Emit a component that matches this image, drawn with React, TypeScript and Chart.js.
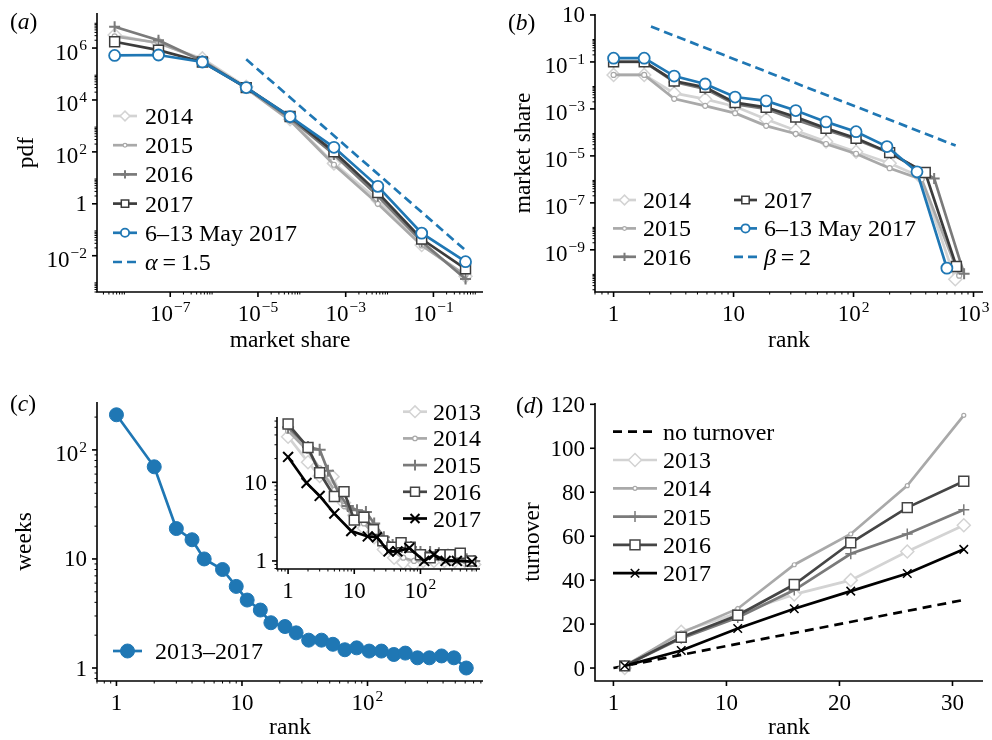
import React, { useEffect, useRef } from "react";
import { Chart, registerables } from "chart.js";
import { drawPoint } from "chart.js/helpers";

Chart.register(...registerables);

const W = 992;
const H = 740;
const FONT = "'Liberation Serif', 'Times New Roman', Times, serif";
const TICK_SIZE = 23;
const SUP_SIZE = 15.5;
const TITLE_SIZE = 23.5;
const LEGEND_SIZE = 24;
const LW = 2.7;

// ---------------- (a) pdf of market share ----------------
const shareBins = [5.4e-9, 5.4e-8, 5.4e-7, 5.4e-6, 5.4e-5, 5.4e-4, 5.4e-3, 5.4e-2, 5.4e-1];
const pdf2014 = [3.2e6, 1.5e6, 4.0e5, 3.2e4, 1.8e3, 36, 1.4, 0.026, 1.6e-3];
const pdf2015 = [2.8e6, 1.6e6, 3.5e5, 2.8e4, 1.6e3, 32, 1.0, 0.025, 1.8e-3];
const pdf2016 = [6.6e6, 2.0e6, 3.2e5, 3.0e4, 2.0e3, 80, 2.0, 0.035, 1.26e-3];
const pdf2017 = [1.75e6, 8.3e5, 2.9e5, 3.0e4, 2.3e3, 100, 2.7, 0.044, 3.1e-3];
const pdfMay = [5.2e5, 5.4e5, 2.9e5, 3.0e4, 2.3e3, 150, 4.7, 0.074, 5.9e-3];
const alphaX = [5.4e-6, 0.5];
const alphaY = [3.7e5, 1.8e-2];
const aTicksX = [1e-7, 1e-5, 1e-3, 1e-1];
const aTicksY = [1e-2, 1, 1e2, 1e4, 1e6];

// ---------------- (b) market share vs rank ----------------
const rank2014 = [1, 1.8, 3.2, 5.8, 10.3, 18.7, 33, 59, 105, 200, 360, 705];
const share2014 = [0.028, 0.028, 4.7e-3, 2.6e-3, 1.26e-3, 3.6e-4, 1.2e-4, 4.1e-5, 1.5e-5, 4.9e-6, 1.3e-6, 5.6e-11];
const rank2015 = [1, 1.8, 3.2, 5.8, 10.3, 18.7, 33, 59, 105, 200, 370, 760];
const share2015 = [0.028, 0.028, 2.7e-3, 1.35e-3, 6.6e-4, 1.9e-4, 8.7e-5, 3.2e-5, 1.23e-5, 3.0e-6, 1.0e-6, 7.9e-11];
const rank2016 = [1, 1.8, 3.2, 5.8, 10.3, 18.7, 33, 59, 105, 205, 470, 835];
const share2016 = [0.1, 0.1, 0.014, 7.1e-3, 1.6e-3, 1.0e-3, 3.5e-4, 1.26e-4, 5.0e-5, 1.26e-5, 1.1e-6, 9.5e-11];
const rank2017 = [1, 1.8, 3.2, 5.8, 10.3, 18.7, 33, 59, 105, 200, 396, 720];
const share2017 = [0.102, 0.102, 0.0155, 8.3e-3, 1.86e-3, 1.17e-3, 4.5e-4, 1.5e-4, 5.6e-5, 1.38e-5, 1.95e-6, 1.95e-10];
const rankMay = [1, 1.8, 3.2, 5.8, 10.3, 18.7, 33, 59, 105, 190, 338, 600];
const shareMay = [0.145, 0.145, 0.025, 0.0115, 3.2e-3, 2.2e-3, 8.5e-4, 2.8e-4, 1.07e-4, 2.5e-5, 2.1e-6, 1.66e-10];
const betaX = [2.05, 710];
const betaY = [3.2, 2.75e-5];
const bTicksX = [1, 10, 100, 1000];
const bTicksY = [1e-9, 1e-7, 1e-5, 1e-3, 1e-1, 10];

// ---------------- (c) weeks vs rank ----------------
const rankC = [1, 2, 3, 4, 5, 7, 9, 11, 14, 17, 22, 27, 34, 43, 53, 66, 82, 103, 129, 162, 200, 250, 311, 389, 488, 612];
const weeksAll = [210, 70, 19, 15, 10, 8, 5.6, 4.2, 3.4, 2.6, 2.4, 2.1, 1.8, 1.8, 1.65, 1.47, 1.53, 1.43, 1.43, 1.33, 1.37, 1.24, 1.24, 1.29, 1.24, 1.0];
const cTicksX = [1, 10, 100];
const cTicksY = [1, 10, 100];

// inset
const inRank2013 = [1, 2, 3, 4.7, 7, 10, 14, 20, 28, 40, 55, 80, 110, 160, 230, 330, 470, 650];
const inWeeks2013 = [38, 18, 12, 11.8, 5.5, 3.8, 2.6, 2.0, 1.4, 1.1, 0.95, 0.9, 1.0, 1.0, 1.0, 1.0, 1.0, 0.9];
const inRank2014 = [1, 2, 3, 5, 7, 10, 14, 20, 28, 40, 55, 80, 110, 160, 230, 330, 470, 650];
const inWeeks2014 = [45, 25, 15, 8, 5, 3.6, 3.0, 2.2, 1.6, 1.3, 1.1, 1.0, 1.0, 1.1, 1.0, 1.0, 1.0, 1.0];
const inRank2015 = [1, 2, 3, 4, 6, 8, 11, 15, 20, 28, 38, 52, 72, 100, 140, 190, 260, 360, 500, 650];
const inWeeks2015 = [50, 28, 26, 14, 7, 5, 4.4, 4.2, 3.0, 2.0, 1.6, 1.5, 1.5, 1.3, 1.3, 1.25, 1.2, 1.1, 1.05, 1.0];
const inRank2016 = [1, 2, 3, 5, 7, 10, 14, 19.5, 27, 37, 51, 70, 100, 140, 200, 280, 400, 570];
const inWeeks2016 = [55, 27.7, 13.2, 6.6, 7.6, 3.3, 3.6, 2.5, 1.8, 1.5, 1.7, 1.5, 1.2, 1.1, 1.2, 1.2, 1.25, 1.0];
const inRank2017 = [1, 1.9, 3, 5, 9, 16, 22, 33, 45, 68, 114, 160, 240, 355, 600];
const inWeeks2017 = [21, 9.8, 6.7, 4, 2.4, 2.05, 2.0, 1.32, 1.32, 1.46, 1.0, 1.2, 1.0, 1.0, 0.98];
const inTicksX = [1, 10, 100];
const inTicksY = [1, 10];

// ---------------- (d) turnover vs rank ----------------
const rankD = [1, 6, 11, 16, 21, 26, 31];
const turn2013 = [0, 16.5, 25, 33.5, 40, 53, 65];
const turn2014 = [1, 16, 27, 47, 61, 83, 115];
const turn2015 = [1, 13.5, 23, 35.5, 52, 61, 72];
const turn2016 = [1, 14, 24, 38, 57, 73, 85];
const turn2017 = [1, 8, 18, 27, 35, 43, 54];
const noTurnX = [0, 31];
const noTurnY = [0, 31];
const dTicksX = [0, 10, 20, 30];
const dTickLabelsX = ["1", "10", "20", "30"];
const dTicksY = [0, 20, 40, 60, 80, 100, 120];

// ---------------- colours ----------------
const BLUE = "#1f77b4";
const G1 = "#d3d3d3";
const G2 = "#a9a9a9";
const G3 = "#7a7a7a";
const G4a = "#3c3c3c";
const G4 = "#454545";
const BLACK = "#000000";

function series(label: string, xs: number[], ys: number[], color: string, marker: string | null, r: number, extra: any = {}) {
  return {
    label,
    data: xs.map((x, i) => ({ x, y: ys[i] })),
    borderColor: color,
    backgroundColor: color,
    borderWidth: LW,
    pointStyle: marker || "circle",
    pointRadius: marker ? r : 0,
    pointHoverRadius: marker ? r : 0,
    pointBorderColor: color,
    pointBackgroundColor: "#ffffff",
    pointBorderWidth: 1.5,
    tension: 0,
    fill: false,
    clip: false,
    ...extra,
  };
}

function withOrder(ds: any[]) {
  return ds.map((d, i) => ({ ...d, order: ds.length - i }));
}

function supParts(v: number): [string, string] {
  const e = Math.round(Math.log10(v));
  if (e === 0) return ["1", ""];
  if (e === 1) return ["10", ""];
  return ["10", e < 0 ? "\u2212" + -e : String(e)];
}

function drawTickLabel(ctx: any, base: string, sup: string, x: number, y: number, align: string) {
  ctx.font = `${TICK_SIZE}px ${FONT}`;
  const wb = ctx.measureText(base).width;
  ctx.font = `${SUP_SIZE}px ${FONT}`;
  const ws = sup ? ctx.measureText(sup).width + 1 : 0;
  const total = wb + ws;
  const x0 = align === "center" ? x - total / 2 : x - total;
  ctx.textAlign = "left";
  ctx.textBaseline = "alphabetic";
  ctx.fillStyle = "#000";
  ctx.font = `${TICK_SIZE}px ${FONT}`;
  ctx.fillText(base, x0, y);
  if (sup) {
    ctx.font = `${SUP_SIZE}px ${FONT}`;
    ctx.fillText(sup, x0 + wb + 1, y - 9.5);
  }
}

const decoPlugin = {
  id: "deco",
  afterDraw(chart: any, _args: any, o: any) {
    const ctx = chart.ctx;
    const ca = chart.chartArea;
    ctx.save();
    ctx.setLineDash([]);
    ctx.strokeStyle = "#000";
    ctx.lineWidth = 1.6;
    ctx.beginPath();
    ctx.moveTo(ca.left, ca.top);
    ctx.lineTo(ca.left, ca.bottom);
    ctx.lineTo(ca.right, ca.bottom);
    ctx.stroke();

    for (const id of ["x", "y"]) {
      const sc = chart.scales[id];
      const horiz = id === "x";
      const labeled: number[] = sc.ticks.map((t: any) => t.value);
      const marks: [number, boolean][] = [];
      const isLog = sc.type === "logarithmic";
      if (isLog) {
        const exps = labeled.map((v) => Math.round(Math.log10(v)));
        const stride = exps.length > 1 ? exps[1] - exps[0] : 1;
        const n0 = Math.floor(Math.log10(sc.min)) - 1;
        const n1 = Math.ceil(Math.log10(sc.max)) + 1;
        for (let n = n0; n <= n1; n++) {
          if ((((n - exps[0]) % stride) + stride) % stride !== 0) continue;
          for (let k = 1; k <= 9; k++) {
            const v = k * Math.pow(10, n);
            if (v < sc.min || v > sc.max) continue;
            marks.push([v, k === 1]);
          }
        }
      } else {
        labeled.forEach((v) => marks.push([v, true]));
      }
      ctx.strokeStyle = "#000";
      for (const [v, major] of marks) {
        const p = sc.getPixelForValue(v);
        const len = major ? 5 : 2.5;
        ctx.lineWidth = major ? 1.6 : 1;
        ctx.beginPath();
        if (horiz) {
          ctx.moveTo(p, ca.bottom);
          ctx.lineTo(p, ca.bottom + len);
        } else {
          ctx.moveTo(ca.left, p);
          ctx.lineTo(ca.left - len, p);
        }
        ctx.stroke();
      }
      const fmt = o && o[id + "Fmt"];
      labeled.forEach((v, i) => {
        const p = sc.getPixelForValue(v);
        let base: string;
        let sup = "";
        if (isLog) [base, sup] = supParts(v);
        else base = fmt ? fmt[i] : String(v);
        if (horiz) drawTickLabel(ctx, base, sup, p, ca.bottom + 29, "center");
        else drawTickLabel(ctx, base, sup, ca.left - 10, p + 7.5 + (sup ? 4 : 0), "right");
      });
    }

    const lg = o && o.legend;
    if (lg) {
      for (const it of lg.items) {
        const ds = chart.data.datasets[it.ds];
        const col = lg.cols[it.col || 0];
        const y = lg.y0 + (it.row || 0) * lg.dy;
        const x1 = col.x1;
        const x2 = col.x1 + lg.len;
        ctx.save();
        ctx.strokeStyle = ds.borderColor;
        ctx.lineWidth = ds.borderWidth;
        ctx.setLineDash(ds.borderDash || []);
        ctx.beginPath();
        ctx.moveTo(x1, y);
        ctx.lineTo(x2, y);
        ctx.stroke();
        ctx.setLineDash([]);
        if (ds.pointRadius > 0) {
          ctx.fillStyle = ds.pointBackgroundColor;
          ctx.strokeStyle = ds.pointBorderColor;
          ctx.lineWidth = ds.pointBorderWidth;
          drawPoint(ctx, { pointStyle: ds.pointStyle, rotation: 0, radius: ds.pointRadius * lg.mscale, borderWidth: ds.pointBorderWidth } as any, (x1 + x2) / 2, y);
        }
        ctx.restore();
        ctx.fillStyle = "#000";
        ctx.textAlign = "left";
        ctx.textBaseline = "alphabetic";
        let tx = col.tx;
        const parts = it.parts || [{ t: ds.label }];
        for (const part of parts) {
          ctx.font = `${part.i ? "italic " : ""}${LEGEND_SIZE}px ${FONT}`;
          ctx.fillText(part.t, tx, y + 8);
          tx += ctx.measureText(part.t).width;
        }
      }
    }
    ctx.restore();
  },
};

function makeConfig(spec: any) {
  const lh = TITLE_SIZE * 1.2;
  const { L, T, R, B } = spec.area;
  const yW = spec.y.title ? L - (spec.y.titleX - lh / 2) : 40;
  const xH = spec.x.title ? spec.x.titleY - B + lh / 2 : 40;
  const axis = (a: any, horiz: boolean) => ({
    type: a.type,
    min: a.min,
    max: a.max,
    afterFit: (s: any) => {
      if (horiz) s.height = xH;
      else s.width = yW;
    },
    afterBuildTicks: (s: any) => {
      s.ticks = a.ticks.map((v: number) => ({ value: v }));
    },
    ticks: { display: false },
    grid: { display: false },
    border: { display: false },
    title: {
      display: !!a.title,
      text: a.title || "",
      color: "#000",
      font: { family: FONT, size: TITLE_SIZE, lineHeight: 1.2 },
      padding: 0,
    },
  });
  return {
    type: "line",
    data: { datasets: withOrder(spec.datasets) },
    options: {
      animation: false,
      responsive: false,
      maintainAspectRatio: false,
      events: [],
      layout: { padding: { left: L - yW, top: T, right: W - R, bottom: H - B - xH } },
      plugins: {
        legend: { display: false },
        tooltip: { enabled: false },
        deco: { legend: spec.legend, xFmt: spec.x.fmt, yFmt: spec.y.fmt },
      },
      scales: { x: axis(spec.x, true), y: axis(spec.y, false) },
    },
    plugins: [decoPlugin],
  };
}

const specA = () => ({
  area: { L: 97, T: 13, R: 483, B: 292 },
  x: { type: "logarithmic", min: 2.14e-9, max: 1.35, ticks: aTicksX, title: "market share", titleY: 341 },
  y: { type: "logarithmic", min: 4e-4, max: 2.24e7, ticks: aTicksY, title: "pdf", titleX: 27 },
  datasets: [
    series("2014", shareBins, pdf2014, G1, "rectRot", 6.5),
    series("2015", shareBins, pdf2015, G2, "circle", 2.5, { pointBorderWidth: 1.2 }),
    series("2016", shareBins, pdf2016, G3, "cross", 5.5, { pointBorderWidth: 2 }),
    series("2017", shareBins, pdf2017, G4a, "rect", 7),
    series("6\u201313 May 2017", shareBins, pdfMay, BLUE, "circle", 5.5, { pointBorderWidth: 1.8 }),
    series("\u03b1 = 1.5", alphaX, alphaY, BLUE, null, 0, { borderDash: [9, 5] }),
  ],
  legend: {
    cols: [{ x1: 113, tx: 145 }],
    len: 24,
    y0: 116,
    dy: 29.2,
    mscale: 0.75,
    items: [
      { ds: 0, row: 0 },
      { ds: 1, row: 1 },
      { ds: 2, row: 2 },
      { ds: 3, row: 3 },
      { ds: 4, row: 4 },
      { ds: 5, row: 5, parts: [{ t: "\u03b1", i: true }, { t: "\u2009=\u20091.5" }] },
    ],
  },
});

const specB = () => ({
  area: { L: 595, T: 14, R: 983, B: 292 },
  x: { type: "logarithmic", min: 0.71, max: 1200, ticks: bTicksX, title: "rank", titleY: 341 },
  y: { type: "logarithmic", min: 1.6e-11, max: 11, ticks: bTicksY, title: "market share", titleX: 524 },
  datasets: [
    series("2014", rank2014, share2014, G1, "rectRot", 6.5),
    series("2015", rank2015, share2015, G2, "circle", 2.5, { pointBorderWidth: 1.2 }),
    series("2016", rank2016, share2016, G3, "cross", 5.5, { pointBorderWidth: 2 }),
    series("2017", rank2017, share2017, G4a, "rect", 7),
    series("6\u201313 May 2017", rankMay, shareMay, BLUE, "circle", 5.5, { pointBorderWidth: 1.8 }),
    series("\u03b2 = 2", betaX, betaY, BLUE, null, 0, { borderDash: [9, 5] }),
  ],
  legend: {
    cols: [
      { x1: 613, tx: 643 },
      { x1: 734, tx: 764 },
    ],
    len: 23,
    y0: 200,
    dy: 28.4,
    mscale: 0.75,
    items: [
      { ds: 0, col: 0, row: 0 },
      { ds: 1, col: 0, row: 1 },
      { ds: 2, col: 0, row: 2 },
      { ds: 3, col: 1, row: 0 },
      { ds: 4, col: 1, row: 1 },
      { ds: 5, col: 1, row: 2, parts: [{ t: "\u03b2", i: true }, { t: "\u2009=\u20092" }] },
    ],
  },
});

const specC = () => ({
  area: { L: 97, T: 402, R: 483, B: 681 },
  x: { type: "logarithmic", min: 0.72, max: 832, ticks: cTicksX, title: "rank", titleY: 728 },
  y: { type: "logarithmic", min: 0.76, max: 275, ticks: cTicksY, title: "weeks", titleX: 25 },
  datasets: [
    series("2013\u20132017", rankC, weeksAll, BLUE, "circle", 7, { pointBackgroundColor: BLUE, pointBorderWidth: 1 }),
  ],
  legend: {
    cols: [{ x1: 113, tx: 155 }],
    len: 29,
    y0: 651,
    dy: 0,
    mscale: 1,
    items: [{ ds: 0, row: 0 }],
  },
});

const specInset = () => ({
  area: { L: 277, T: 417, R: 480, B: 569 },
  x: { type: "logarithmic", min: 0.68, max: 794, ticks: inTicksX },
  y: { type: "logarithmic", min: 0.79, max: 67.6, ticks: inTicksY },
  datasets: [
    series("2013", inRank2013, inWeeks2013, G1, "rectRot", 6.5),
    series("2014", inRank2014, inWeeks2014, G2, "circle", 2.5, { pointBorderWidth: 1.2 }),
    series("2015", inRank2015, inWeeks2015, G3, "cross", 6, { pointBorderWidth: 2 }),
    series("2016", inRank2016, inWeeks2016, G4, "rect", 7),
    series("2017", inRank2017, inWeeks2017, BLACK, "crossRot", 7, { pointBorderWidth: 2 }),
  ],
  legend: {
    cols: [{ x1: 403, tx: 433 }],
    len: 24,
    y0: 411.7,
    dy: 26.7,
    mscale: 0.9,
    items: [
      { ds: 0, row: 0 },
      { ds: 1, row: 1 },
      { ds: 2, row: 2 },
      { ds: 3, row: 3 },
      { ds: 4, row: 4 },
    ],
  },
});

const specD = () => ({
  area: { L: 595, T: 403, R: 983, B: 681 },
  x: { type: "linear", min: -1.63, max: 32.7, ticks: dTicksX, fmt: dTickLabelsX, title: "rank", titleY: 728 },
  y: { type: "linear", min: -5.9, max: 120.6, ticks: dTicksY, title: "turnover", titleX: 533 },
  datasets: [
    series("no turnover", noTurnX, noTurnY, BLACK, null, 0, { borderDash: [9, 6] }),
    series("2013", rankD, turn2013, G1, "rectRot", 6.5),
    series("2014", rankD, turn2014, G2, "circle", 2, { pointBorderWidth: 1.2 }),
    series("2015", rankD, turn2015, G3, "cross", 5.5, { pointBorderWidth: 1.5 }),
    series("2016", rankD, turn2016, G4, "rect", 7),
    series("2017", rankD, turn2017, BLACK, "crossRot", 6, { pointBorderWidth: 1.5 }),
  ],
  legend: {
    cols: [{ x1: 613, tx: 663 }],
    len: 44,
    y0: 431.7,
    dy: 28.3,
    mscale: 1,
    items: [
      { ds: 0, row: 0 },
      { ds: 1, row: 1 },
      { ds: 2, row: 2 },
      { ds: 3, row: 3 },
      { ds: 4, row: 4 },
      { ds: 5, row: 5 },
    ],
  },
});

function ChartCanvas({ make }: { make: () => any }) {
  const ref = useRef<HTMLCanvasElement | null>(null);
  useEffect(() => {
    if (!ref.current) return;
    const chart = new Chart(ref.current, makeConfig(make()) as any);
    return () => chart.destroy();
  }, [make]);
  return (
    <canvas
      ref={ref}
      width={W}
      height={H}
      style={{ position: "absolute", left: 0, top: 0, width: W, height: H }}
    />
  );
}

function PanelLabel({ letter, left, cy }: { letter: string; left: number; cy: number }) {
  return (
    <div
      style={{
        position: "absolute",
        left,
        top: cy - 13,
        fontFamily: FONT,
        fontSize: 23.5,
        lineHeight: "26px",
        color: "#000",
        whiteSpace: "nowrap",
      }}
    >
      (<i>{letter}</i>)
    </div>
  );
}

const makers = [specA, specB, specC, specInset, specD];

export default function App() {
  return (
    <div
      style={{
        position: "fixed",
        left: 0,
        top: 0,
        width: W,
        height: H,
        background: "#fff",
        overflow: "hidden",
      }}
    >
      {makers.map((m, i) => (
        <ChartCanvas key={i} make={m} />
      ))}
      <PanelLabel letter="a" left={10} cy={21} />
      <PanelLabel letter="b" left={508} cy={22} />
      <PanelLabel letter="c" left={10} cy={403} />
      <PanelLabel letter="d" left={516} cy={405} />
    </div>
  );
}
